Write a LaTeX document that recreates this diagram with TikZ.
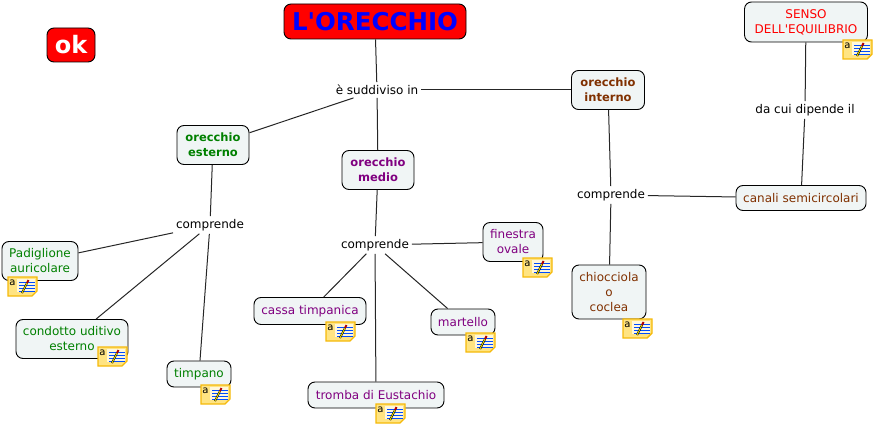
\documentclass[tikz,border=0pt]{standalone}
\usepackage{fontspec}
\setmainfont[Ligatures=TeXOff]{DejaVu Sans}
\definecolor{kbox}{RGB}{240,245,245}
\definecolor{kgreen}{RGB}{0,128,0}
\definecolor{kpurple}{RGB}{128,0,128}
\definecolor{kbrown}{RGB}{128,48,0}
\definecolor{knote}{RGB}{255,228,130}
\definecolor{knoteedge}{RGB}{245,185,10}
\tikzset{
  concept/.style={draw=black,fill=kbox,rounded corners=7pt,align=center,inner sep=0pt,line width=0.9pt,font=\fontsize{12}{15}\selectfont},
  linklb/.style={inner sep=0pt,outer sep=3pt,font=\fontsize{12}{14}\selectfont,text=black},
  link/.style={draw=black!85,line width=1pt},
  notepic/.pic={
    \fill[knote,draw=knoteedge,line width=1.4pt](0,0)--(29,0)--(29,14)--(24,19)--(0,19)--cycle;
    \fill[white!70!knote](9,2) rectangle (27,15);
    \node[inner sep=0pt,font=\fontsize{10}{10}\selectfont] (-a) at (4.5,6){a};
    \foreach \ky in {5,8,11,14}{\draw[blue!70!cyan,line width=0.7pt](11,\ky)--(27,\ky);}
    \draw[black,line width=2pt](14,16)--(19,6);
    \draw[yellow,line width=0.7pt](14,16)--(19,6);
    \draw[red!70!black,line width=2pt](19,6)--(20.5,3);
  }
}
\begin{document}
\begin{tikzpicture}[x=1pt,y=-1pt]
\useasboundingbox (0,0) rectangle (875,425);
% linking phrases
\node[linklb] (divide) at (377,90) {è suddiviso in};
\node[linklb] (compEst) at (210,225) {comprende};
\node[linklb] (compMed) at (375,245) {comprende};
\node[linklb] (compInt) at (611,195) {comprende};
\node[linklb] (dipende) at (805,110) {da cui dipende il};
% concepts
\node[concept,fill=red,minimum width=182pt,minimum height=35pt,font=\fontsize{24.5}{25}\selectfont\bfseries,text=blue] (title) at (375,21.5) {L'ORECCHIO};
\node[concept,fill=red,minimum width=48pt,minimum height=34pt,font=\fontsize{24}{24}\selectfont\bfseries,text=white] (ok) at (71,45) {ok};
\node[concept,minimum width=123pt,minimum height=40pt,text=red] (senso) at (806,22) {SENSO\\DELL'EQUILIBRIO};
\node[concept,minimum width=73pt,minimum height=39pt,text=kbrown,font=\fontsize{11.5}{15}\selectfont\bfseries] (interno) at (608,90) {orecchio\\interno};
\node[concept,minimum width=72pt,minimum height=39pt,text=kgreen,font=\fontsize{11.5}{15}\selectfont\bfseries] (esterno) at (213,145) {orecchio\\esterno};
\node[concept,minimum width=72pt,minimum height=39pt,text=kpurple,font=\fontsize{11.5}{15}\selectfont\bfseries] (medio) at (378,170) {orecchio\\medio};
\node[concept,minimum width=130pt,minimum height=25pt,text=kbrown] (canali) at (801,198) {canali semicircolari};
\node[concept,minimum width=76pt,minimum height=39pt,text=kgreen] (padiglione) at (40,261) {Padiglione\\auricolare};
\node[concept,minimum width=112pt,minimum height=39pt,text=kgreen] (condotto) at (72,339) {condotto uditivo\\esterno};
\node[concept,minimum width=64pt,minimum height=26pt,text=kgreen] (timpano) at (199,374) {timpano};
\node[concept,minimum width=112pt,minimum height=27pt,text=kpurple] (cassa) at (310,311) {cassa timpanica};
\node[concept,minimum width=136pt,minimum height=26pt,text=kpurple] (tromba) at (376,395) {tromba di Eustachio};
\node[concept,minimum width=64pt,minimum height=26pt,text=kpurple] (martello) at (463,322) {martello};
\node[concept,minimum width=60pt,minimum height=39pt,text=kpurple] (finestra) at (513,242) {finestra\\ovale};
\node[concept,minimum width=74pt,minimum height=54pt,text=kbrown] (chiocciola) at (609,292) {chiocciola\\o\\coclea};
% connectors
\foreach \ka/\kb in {title/divide,divide/esterno,divide/medio,divide/interno,esterno/compEst,compEst/padiglione,compEst/condotto,compEst/timpano,medio/compMed,compMed/cassa,compMed/tromba,compMed/martello,compMed/finestra,interno/compInt,compInt/canali,compInt/chiocciola,canali/dipende,dipende/senso}{\draw[link](\ka)--(\kb);}
% note icons
\foreach \kn/\kx/\ky in {padiglione/8/277,condotto/98/347,timpano/201/385,cassa/326/322,tromba/376/404,martello/466/333,finestra/523/258,chiocciola/623/319,senso/843/40}{\pic (\kn note) at (\kx,\ky) {notepic};}
\end{tikzpicture}
\end{document}
